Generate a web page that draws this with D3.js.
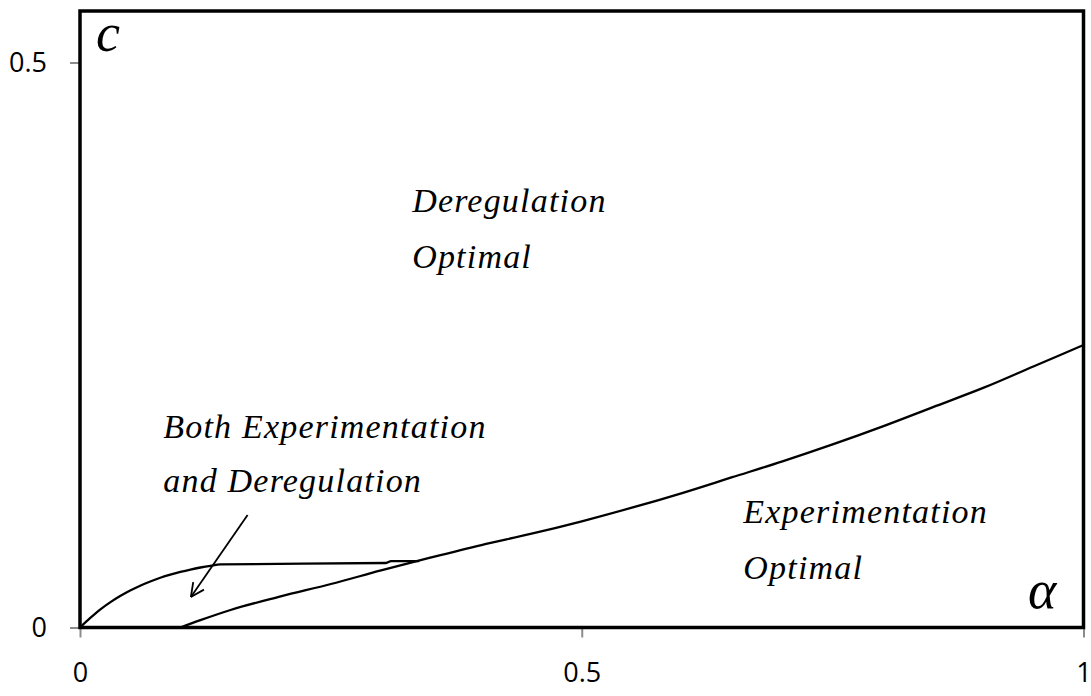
<!DOCTYPE html>
<html>
<head>
<meta charset="utf-8">
<script src="https://cdn.jsdelivr.net/npm/d3@7"></script>
<style>
  body { margin: 0; background: #fff; }
  svg { display: block; }
  .tick-label { font-family: "Open Sans", sans-serif; font-size: 27px; fill: #000; }
  .region { font-family: "Liberation Serif", "Times New Roman", serif; font-style: italic; font-size: 34px; letter-spacing: 1.2px; fill: #000; }
</style>
</head>
<body>
<div id="chart"></div>
<script>
// boundary between "both" region and deregulation region
var alphaUpper = [0, 0.01, 0.02, 0.03, 0.04, 0.05, 0.06, 0.07, 0.08, 0.09, 0.10, 0.11, 0.12, 0.13, 0.14, 0.305, 0.31, 0.338];
var cUpper = [0, 0.0082, 0.0158, 0.0222, 0.0278, 0.0327, 0.0370, 0.0407, 0.0440, 0.0468, 0.0492, 0.0513, 0.0531, 0.0546, 0.0558, 0.0571, 0.0588, 0.0588];

// boundary of experimentation region
var alphaLower = [0.10, 0.12, 0.15, 0.20, 0.25, 0.30, 0.35, 0.40, 0.45, 0.50, 0.55, 0.60, 0.65, 0.70, 0.75, 0.80, 0.85, 0.90, 0.95, 1.00];
var cLower = [0, 0.0065, 0.0155, 0.0275, 0.0385, 0.0505, 0.062, 0.073, 0.083, 0.094, 0.106, 0.119, 0.133, 0.147, 0.162, 0.178, 0.195, 0.212, 0.231, 0.250];

var xTicks = [0, 0.5, 1];
var xTickLabels = ["0", "0.5", "1"];
var yTicks = [0, 0.5];
var yTickLabels = ["0", "0.5"];

var labelDereg = ["Deregulation", "Optimal"];
var labelBoth = ["Both Experimentation", "and Deregulation"];
var labelExp = ["Experimentation", "Optimal"];

var width = 1091, height = 696;
var plotLeft = 80, plotRight = 1083.5, plotTop = 11, plotBottom = 627.5;

var svg = d3.select("#chart").append("svg")
    .attr("width", width)
    .attr("height", height);

var x = d3.scaleLinear().domain([0, 1]).range([plotLeft, plotRight]);
// top of frame sits a little above 0.5
var y = d3.scaleLinear().domain([0, 0.5]).range([plotBottom, 62.5]);

// ticks (grey, outside)
var xAxis = d3.axisBottom(x).tickValues(xTicks).tickSize(10).tickFormat(function(d, i) { return xTickLabels[i]; });
var yAxis = d3.axisLeft(y).tickValues(yTicks).tickSize(10).tickFormat(function(d, i) { return yTickLabels[i]; });

var gx = svg.append("g").attr("transform", "translate(0," + plotBottom + ")").call(xAxis);
var gy = svg.append("g").attr("transform", "translate(" + plotLeft + ",0)").call(yAxis);

gx.select(".domain").remove();
gy.select(".domain").remove();
gx.selectAll(".tick line").attr("stroke", "#8c8c8c").attr("stroke-width", 2);
gy.selectAll(".tick line").attr("stroke", "#8c8c8c").attr("stroke-width", 2);
gx.selectAll(".tick text").attr("class", "tick-label").attr("y", 35).attr("dy", "0.71em");
gy.selectAll(".tick text").attr("class", "tick-label").attr("x", -33).attr("dy", "0.35em");

// curves
var line = d3.line()
    .curve(d3.curveMonotoneX)
    .x(function(d) { return x(d[0]); })
    .y(function(d) { return y(d[1]); });

var upper = alphaUpper.map(function(a, i) { return [a, cUpper[i]]; });
var lower = alphaLower.map(function(a, i) { return [a, cLower[i]]; });

svg.append("path").attr("d", line(upper))
    .attr("fill", "none").attr("stroke", "#000").attr("stroke-width", 2.3);
svg.append("path").attr("d", line(lower))
    .attr("fill", "none").attr("stroke", "#000").attr("stroke-width", 2.3);

// plot frame
svg.append("rect")
    .attr("x", plotLeft).attr("y", plotTop)
    .attr("width", plotRight - plotLeft).attr("height", plotBottom - plotTop)
    .attr("fill", "none").attr("stroke", "#000").attr("stroke-width", 3.5);

// region labels
function addLabel(lines, ax, cy, gap) {
    var t = svg.append("text").attr("class", "region");
    lines.forEach(function(s, i) {
        t.append("tspan").attr("x", x(ax)).attr("y", y(cy) + i * gap).text(s);
    });
}
addLabel(labelDereg, 0.331, 0.3677, 56);
addLabel(labelBoth, 0.083, 0.1677, 54);
addLabel(labelExp, 0.661, 0.0925, 56);

// arrow pointing into the small region
var tail = [0.167, 0.0995], tip = [0.1105, 0.0270];
var x1 = x(tail[0]), y1 = y(tail[1]), x2 = x(tip[0]), y2 = y(tip[1]);
svg.append("line")
    .attr("x1", x1).attr("y1", y1).attr("x2", x2).attr("y2", y2)
    .attr("stroke", "#000").attr("stroke-width", 1.8);
var ang = Math.atan2(y2 - y1, x2 - x1);
var head = 15, spread = 0.45;
[ang + Math.PI - spread, ang + Math.PI + spread].forEach(function(a) {
    svg.append("line")
        .attr("x1", x2).attr("y1", y2)
        .attr("x2", x2 + head * Math.cos(a)).attr("y2", y2 + head * Math.sin(a))
        .attr("stroke", "#000").attr("stroke-width", 1.8);
});

// axis names inside the frame
svg.append("text")
    .attr("x", 96).attr("y", 51)
    .style("font-family", "'Liberation Serif', serif")
    .style("font-style", "italic")
    .style("font-size", "54px")
    .text("c");
svg.append("text")
    .attr("x", 1028).attr("y", 608)
    .style("font-family", "'Liberation Serif', serif")
    .style("font-style", "italic")
    .style("font-size", "54px")
    .text("α");
</script>
</body>
</html>
